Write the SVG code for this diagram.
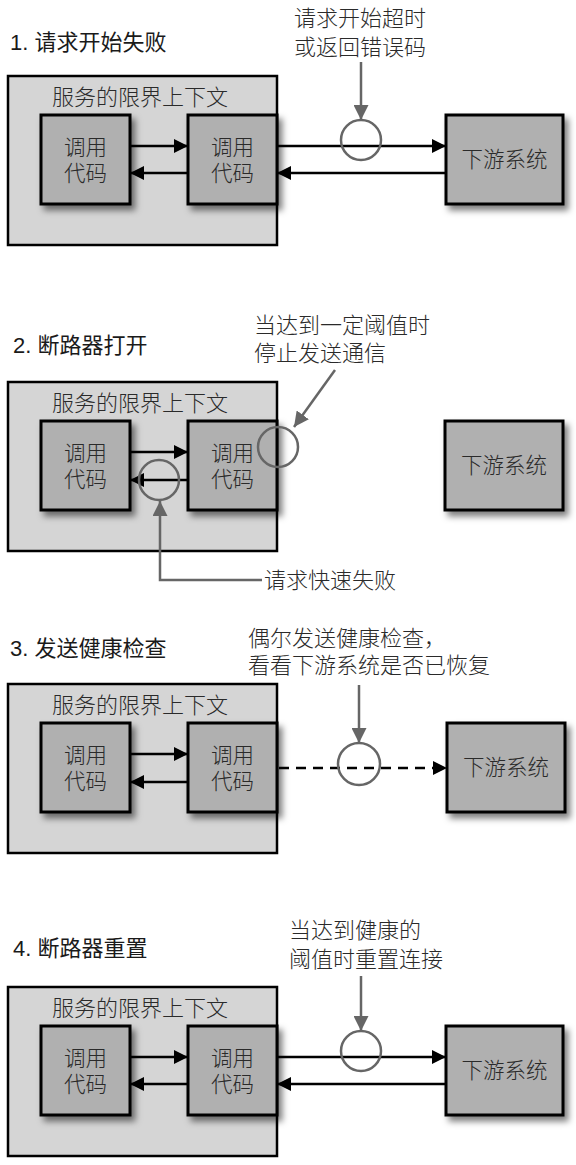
<svg xmlns="http://www.w3.org/2000/svg" width="576" height="1165" viewBox="0 0 576 1165">
<style>
.bg{fill:#fff}
.outer{fill:#d5d5d5;stroke:#000;stroke-width:2.5}
.box{fill:#b0b0b0;stroke:#000;stroke-width:3;filter:url(#sh)}
.t{font-family:"Noto Sans CJK SC","Liberation Sans",sans-serif;font-size:22px;fill:#2a2a2a;font-weight:300}
.ctx{font-family:"Noto Sans CJK SC","Liberation Sans",sans-serif;font-size:22px;fill:#2a2a2a;font-weight:300;text-anchor:middle}
.lbl{font-family:"Noto Sans CJK SC","Liberation Sans",sans-serif;font-size:21.5px;fill:#2a2a2a;font-weight:300;text-anchor:middle}
.title{font-family:"Liberation Sans","Noto Sans CJK SC",sans-serif;font-size:22px;fill:#1a1a1a}
.ar{stroke:#000;stroke-width:2.5;fill:none;marker-end:url(#ah)}
.dash{stroke-dasharray:10 7}
.g{stroke:#666;stroke-width:2.5;fill:none}
.ga{stroke:#666;stroke-width:2.5;fill:none;marker-end:url(#gh)}
</style>
<defs>
<filter id="sh" x="-20%" y="-20%" width="150%" height="150%">
<feDropShadow dx="4" dy="5" stdDeviation="3" flood-color="#000" flood-opacity="0.5"/>
</filter>
<marker id="ah" markerUnits="userSpaceOnUse" markerWidth="14" markerHeight="14" viewBox="0 0 12 12" refX="12" refY="6" orient="auto">
<path d="M0,0 L12,6 L0,12 z" fill="#000"/>
</marker>
<marker id="gh" markerUnits="userSpaceOnUse" markerWidth="15" markerHeight="15" viewBox="0 0 14 14" refX="14" refY="7" orient="auto">
<path d="M0,0 L14,7 L0,14 z" fill="#666"/>
</marker>
</defs>
<rect class="bg" x="0" y="0" width="576" height="1165"/>

<!-- Panel 1 -->
<g id="panel1">
<text class="title" x="10" y="50">1. 请求开始失败</text>
<text class="t" x="294" y="26">请求开始超时</text>
<text class="t" x="294" y="55">或返回错误码</text>
<g id="p1-context"><rect class="outer" x="8" y="76" width="269" height="169"/><text class="ctx" x="140" y="105">服务的限界上下文</text></g>
<g id="p1-caller"><rect class="box" x="41" y="115" width="89" height="89"/><text class="lbl" x="85.5" y="154.5">调用</text><text class="lbl" x="85.5" y="181">代码</text></g>
<g id="p1-callee"><rect class="box" x="188" y="115" width="89" height="89"/><text class="lbl" x="232.5" y="154.5">调用</text><text class="lbl" x="232.5" y="181">代码</text></g>
<g id="p1-down"><rect class="box" x="446" y="115" width="117" height="89"/><text class="lbl" x="504.5" y="167">下游系统</text></g>
<g id="p1-connectors">
<line class="ar" x1="130" y1="146" x2="188" y2="146"/>
<line class="ar" x1="188" y1="173" x2="130" y2="173"/>
<line class="ar" x1="277" y1="146" x2="446" y2="146"/>
<line class="ar" x1="446" y1="173" x2="277" y2="173"/>
<circle class="g" cx="361" cy="140" r="20"/>
<line class="ga" x1="361" y1="62" x2="361" y2="120"/>
</g>
</g>

<!-- Panel 2 -->
<g id="panel2">
<text class="title" x="13" y="353">2. 断路器打开</text>
<text class="t" x="254" y="333">当达到一定阈值时</text>
<text class="t" x="254" y="361">停止发送通信</text>
<g id="p2-context"><rect class="outer" x="8" y="382" width="269" height="169"/><text class="ctx" x="140" y="411">服务的限界上下文</text></g>
<g id="p2-caller"><rect class="box" x="41" y="421" width="89" height="89"/><text class="lbl" x="85.5" y="460.5">调用</text><text class="lbl" x="85.5" y="487">代码</text></g>
<g id="p2-callee"><rect class="box" x="188" y="421" width="89" height="89"/><text class="lbl" x="232.5" y="460.5">调用</text><text class="lbl" x="232.5" y="487">代码</text></g>
<g id="p2-down"><rect class="box" x="445" y="421" width="118" height="89"/><text class="lbl" x="504" y="473">下游系统</text></g>
<g id="p2-connectors">
<line class="ar" x1="130" y1="452" x2="188" y2="452"/>
<line class="ar" x1="188" y1="480" x2="130" y2="480"/>
<circle class="g" cx="159" cy="480" r="20"/>
<circle class="g" cx="278" cy="447" r="20"/>
<line class="ga" x1="335" y1="370" x2="294" y2="427"/>
<path class="ga" d="M262,580 H160 V501"/>
</g>
<text class="t" x="264" y="588">请求快速失败</text>
</g>

<!-- Panel 3 -->
<g id="panel3">
<text class="title" x="10" y="656">3. 发送健康检查</text>
<text class="t" x="248" y="646">偶尔发送健康检查，</text>
<text class="t" x="248" y="673">看看下游系统是否已恢复</text>
<g id="p3-context"><rect class="outer" x="8" y="684" width="269" height="169"/><text class="ctx" x="140" y="713">服务的限界上下文</text></g>
<g id="p3-caller"><rect class="box" x="41" y="723" width="89" height="89"/><text class="lbl" x="85.5" y="762.5">调用</text><text class="lbl" x="85.5" y="789">代码</text></g>
<g id="p3-callee"><rect class="box" x="188" y="723" width="89" height="89"/><text class="lbl" x="232.5" y="762.5">调用</text><text class="lbl" x="232.5" y="789">代码</text></g>
<g id="p3-down"><rect class="box" x="447" y="723" width="118" height="89"/><text class="lbl" x="506" y="775">下游系统</text></g>
<g id="p3-connectors">
<line class="ar" x1="130" y1="754" x2="188" y2="754"/>
<line class="ar" x1="188" y1="782" x2="130" y2="782"/>
<line class="ar dash" x1="279" y1="768" x2="447" y2="768"/>
<circle class="g" cx="359" cy="764" r="21"/>
<line class="ga" x1="359" y1="685" x2="359" y2="743"/>
</g>
</g>

<!-- Panel 4 -->
<g id="panel4">
<text class="title" x="13" y="956">4. 断路器重置</text>
<text class="t" x="289" y="938">当达到健康的</text>
<text class="t" x="289" y="967">阈值时重置连接</text>
<g id="p4-context"><rect class="outer" x="8" y="987" width="269" height="169"/><text class="ctx" x="140" y="1016">服务的限界上下文</text></g>
<g id="p4-caller"><rect class="box" x="41" y="1026" width="89" height="89"/><text class="lbl" x="85.5" y="1065.5">调用</text><text class="lbl" x="85.5" y="1092">代码</text></g>
<g id="p4-callee"><rect class="box" x="188" y="1026" width="89" height="89"/><text class="lbl" x="232.5" y="1065.5">调用</text><text class="lbl" x="232.5" y="1092">代码</text></g>
<g id="p4-down"><rect class="box" x="446" y="1026" width="117" height="89"/><text class="lbl" x="504.5" y="1078">下游系统</text></g>
<g id="p4-connectors">
<line class="ar" x1="130" y1="1057" x2="188" y2="1057"/>
<line class="ar" x1="188" y1="1084" x2="130" y2="1084"/>
<line class="ar" x1="277" y1="1057" x2="446" y2="1057"/>
<line class="ar" x1="446" y1="1084" x2="277" y2="1084"/>
<circle class="g" cx="361" cy="1051" r="20"/>
<line class="ga" x1="361" y1="976" x2="361" y2="1031"/>
</g>
</g>
</svg>
